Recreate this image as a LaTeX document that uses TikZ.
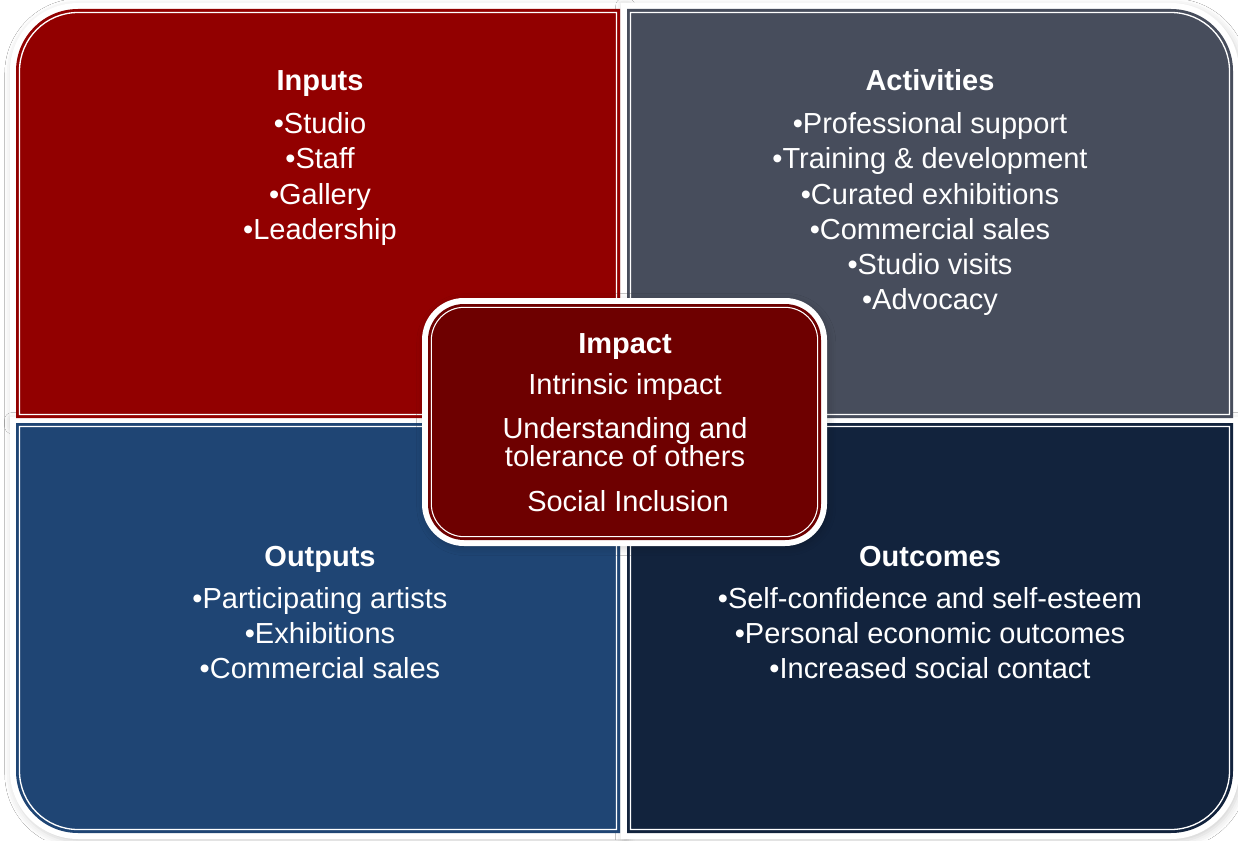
\documentclass[tikz,border=0pt]{standalone}
\usepackage{fontspec}
\setmainfont{Liberation Sans}
\usetikzlibrary{shadows.blur}
\definecolor{inred}{RGB}{146,0,0}
\definecolor{actgrey}{RGB}{71,77,92}
\definecolor{outblue}{RGB}{31,69,116}
\definecolor{outcnavy}{RGB}{18,35,61}
\definecolor{impred}{RGB}{110,0,0}
\tikzset{halo/.style = {fill=white, blur shadow={shadow xshift=1pt, shadow yshift=-1.5pt,
                                                 shadow blur radius=4pt, shadow opacity=18}}}
\tikzset{rim/.style = {draw=white, line width=0.75pt}}
\tikzset{head/.style = {anchor=base, text=white, inner sep=0,
                        font=\fontsize{16.5}{20}\selectfont\bfseries}}
\tikzset{item/.style = {anchor=base, text=white, inner sep=0,
                        font=\fontsize{16.5}{20}\selectfont}}
% panel outlines, #1 = inset
\newcommand{\tlpanel}[1]{({16+#1},{422+#1}) -- ({16+#1},769) arc[start angle=180, end angle=90, radius={62-#1}]
  -- ({620-#1},{831-#1}) -- ({620-#1},{422+#1}) -- cycle}
\newcommand{\trpanel}[1]{({627+#1},{422+#1}) -- ({627+#1},{831-#1}) -- (1171,{831-#1})
  arc[start angle=90, end angle=0, radius={62-#1}] -- ({1233-#1},{422+#1}) -- cycle}
\newcommand{\blpanel}[1]{({16+#1},{417-#1}) -- ({620-#1},{417-#1}) -- ({620-#1},{7+#1}) -- (78,{7+#1})
  arc[start angle=270, end angle=180, radius={62-#1}] -- cycle}
\newcommand{\brpanel}[1]{({627+#1},{417-#1}) -- ({1233-#1},{417-#1}) -- ({1233-#1},69)
  arc[start angle=0, end angle=-90, radius={62-#1}] -- ({627+#1},{7+#1}) -- cycle}

\begin{document}
\begin{tikzpicture}[x=0.02cm, y=0.02cm]
    \fill [white] (0, 0) rectangle (1238, 840);
    \useasboundingbox (0, 0) rectangle (1238, 840);

    \fill [halo] \tlpanel{-6};
    \fill [halo] \trpanel{-6};
    \fill [halo] \blpanel{-6};
    \fill [halo] \brpanel{-6};

    \fill [inred] \tlpanel{0};
    \fill [actgrey] \trpanel{0};
    \fill [outblue] \blpanel{0};
    \fill [outcnavy] \brpanel{0};
    \draw [rim] \tlpanel{3.5};
    \draw [rim] \trpanel{3.5};
    \draw [rim] \blpanel{3.5};
    \draw [rim] \brpanel{3.5};

    \node [head] (inputs) at (320, 749) {Inputs};
    \foreach \txt [count=\i] in {Studio, Staff, Gallery, Leadership}
      \node [item] (in\i) at (320, {741-35*\i}) {•\txt};

    \node [head] (activities) at (930, 749) {Activities};
    \foreach \txt [count=\i] in {Professional support, Training \& development, Curated exhibitions,
                                 Commercial sales, Studio visits, Advocacy}
      \node [item] (act\i) at (930, {741-35*\i}) {•\txt};

    \node [head] (outputs) at (320, 274) {Outputs};
    \foreach \txt [count=\i] in {Participating artists, Exhibitions, Commercial sales}
      \node [item] (out\i) at (320, {267-35*\i}) {•\txt};

    \node [head] (outcomes) at (930, 274) {Outcomes};
    \foreach \txt [count=\i] in {Self-confidence and self-esteem, Personal economic outcomes,
                                 Increased social contact}
      \node [item] (outc\i) at (930, {267-35*\i}) {•\txt};

    % centre box
    \fill [halo, rounded corners=0.84cm] (422, 294) rectangle (827, 542);
    \fill [impred, rounded corners=0.72cm] (428, 300) rectangle (821, 536);
    \draw [rim, line width=0.6pt, rounded corners=0.66cm] (431.3, 303.3) rectangle (817.7, 532.7);

    \node [head] (impact) at (625, 487) {Impact};
    \node [item] (imp1) at (625, 446) {Intrinsic impact};
    \node [item] (imp2) at (625, 402) {Understanding and};
    \node [item] (imp3) at (625, 374) {tolerance of others};
    \node [item] (imp4) at (628, 329) {Social Inclusion};
\end{tikzpicture}
\end{document}
